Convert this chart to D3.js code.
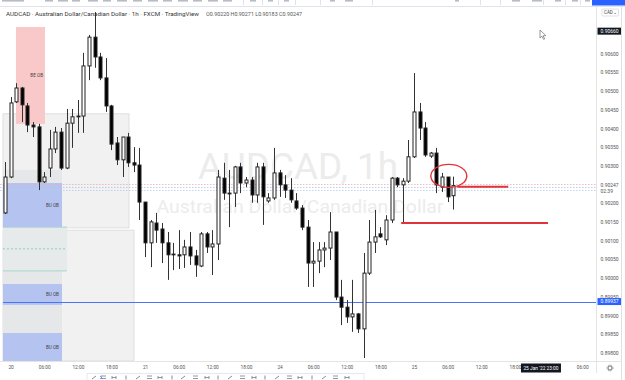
<!DOCTYPE html>
<html><head><meta charset="utf-8">
<script src="https://cdn.jsdelivr.net/npm/d3@7"></script>
<style>html,body{margin:0;padding:0;background:#fff;overflow:hidden}svg{display:block;font-family:Roboto,"Noto Sans",sans-serif}</style>
</head><body><svg id="c" width="625" height="380"></svg>
<script>
// ---- DATA (AUDCAD 1h, FXCM) ----
const candleOpen  = [0.90174,0.90270,0.90471,0.90508,0.90460,0.90409,0.90404,0.90257,0.90294,0.90345,0.90390,0.90294,0.90414,0.90431,0.90433,0.90567,0.90644,0.90591,0.90535,0.90460,0.90361,0.90316,0.90377,0.90308,0.90302,0.90203,0.90094,0.90147,0.90131,0.90094,0.90064,0.90062,0.90062,0.90083,0.90059,0.90032,0.90118,0.90083,0.90091,0.90267,0.90227,0.90227,0.90297,0.90254,0.90262,0.90222,0.90297,0.90206,0.90214,0.90281,0.90249,0.90235,0.90206,0.90187,0.90136,0.90040,0.90045,0.90075,0.90080,0.90123,0.89949,0.89922,0.89896,0.89904,0.89864,0.90013,0.90096,0.90118,0.90102,0.90155,0.90267,0.90249,0.90259,0.90324,0.90444,0.90401,0.90326,0.90334,0.90243,0.90270,0.90220];
const candleHigh  = [0.90310,0.90484,0.90521,0.90511,0.90468,0.90417,0.90412,0.90283,0.90396,0.90404,0.90401,0.90452,0.90452,0.90476,0.90602,0.90650,0.90711,0.90602,0.90588,0.90463,0.90377,0.90377,0.90388,0.90350,0.90348,0.90203,0.90155,0.90174,0.90147,0.90123,0.90094,0.90128,0.90102,0.90123,0.90075,0.90123,0.90123,0.90128,0.90289,0.90308,0.90289,0.90300,0.90308,0.90270,0.90270,0.90308,0.90308,0.90227,0.90348,0.90289,0.90275,0.90267,0.90227,0.90195,0.90155,0.90096,0.90096,0.90096,0.90176,0.90123,0.89995,0.89941,0.89995,0.89906,0.90067,0.90155,0.90182,0.90136,0.90168,0.90270,0.90270,0.90267,0.90369,0.90548,0.90468,0.90417,0.90337,0.90348,0.90281,0.90270,0.90271];
const candleLow   = [0.90171,0.90267,0.90468,0.90417,0.90390,0.90377,0.90235,0.90254,0.90270,0.90334,0.90289,0.90291,0.90348,0.90388,0.90388,0.90529,0.90562,0.90529,0.90444,0.90342,0.90302,0.90270,0.90297,0.90283,0.90155,0.90056,0.90029,0.90094,0.90040,0.89995,0.90021,0.90024,0.90027,0.90035,0.90003,0.90029,0.90067,0.90008,0.90048,0.90209,0.90136,0.90190,0.90227,0.90243,0.90201,0.90201,0.90142,0.90201,0.90209,0.90217,0.90214,0.90201,0.90182,0.90128,0.89976,0.89976,0.90013,0.90029,0.90048,0.89941,0.89874,0.89880,0.89856,0.89853,0.89786,0.90008,0.90067,0.90107,0.90088,0.90147,0.90243,0.90147,0.90254,0.90321,0.90369,0.90324,0.90321,0.90227,0.90230,0.90203,0.90183];
const candleClose = [0.90270,0.90468,0.90508,0.90463,0.90409,0.90404,0.90257,0.90270,0.90345,0.90390,0.90294,0.90414,0.90431,0.90433,0.90567,0.90644,0.90591,0.90535,0.90460,0.90358,0.90316,0.90377,0.90308,0.90302,0.90203,0.90094,0.90150,0.90128,0.90094,0.90062,0.90062,0.90059,0.90083,0.90059,0.90035,0.90118,0.90083,0.90091,0.90270,0.90227,0.90225,0.90297,0.90254,0.90262,0.90222,0.90297,0.90217,0.90214,0.90281,0.90249,0.90235,0.90209,0.90187,0.90136,0.90040,0.90045,0.90075,0.90080,0.90123,0.89949,0.89922,0.89896,0.89904,0.89864,0.90013,0.90096,0.90110,0.90110,0.90155,0.90267,0.90249,0.90259,0.90324,0.90444,0.90401,0.90329,0.90334,0.90249,0.90270,0.90217,0.90247];

const timeTickIndex  = [1,7,13,19,25,31,37,43,49,55,61,67,73,79,85,91,103];
const timeTickLabels = ["20","06:00","12:00","18:00","21","06:00","12:00","18:00","24","06:00","12:00","18:00","25","06:00","12:00","18:00","06:00"];
const priceTicks = [0.8980,0.8985,0.8990,0.8995,0.9000,0.9005,0.9010,0.9015,0.9020,0.9030,0.9035,0.9040,0.9045,0.9050,0.9055,0.9060];

// zones drawn on chart: [indexFrom, indexTo, priceTop, priceBottom]
const grayZones   = [[-0.36,22.13,0.90439,0.90134],[-0.36,23.02,0.90128,0.89778]];
const darkZones   = [[-0.36,10.17,0.90289,0.90134],[-0.36,10.17,0.90019,0.89778]];
const pinkZone    = [1.96,7.14,0.90671,0.90412];
const blueZones   = [[-0.36,10.17,0.90254,0.90136],[-0.36,10.17,0.89984,0.89928],[-0.36,10.17,0.89853,0.89778]];
const tealZone    = [-0.36,11.06,0.90136,0.90019,0.90078];
const blueLevel   = 0.89937;
const lastPrice   = 0.90247;
const bidAskLines = [0.90251,0.90244,0.90235];
const redLines    = [[80.7,89.8,0.90244],[70.7,96.9,0.90147]];
const circleMark  = [79.2,0.90273];
const crossPrice  = "0.90660";
const crossTime   = "25 Jan '22  23:00";

// ---- DRAW ----
const svg = d3.select("#c");
const x = d3.scaleLinear().domain([0,80]).range([5,453.3]);
const y = d3.scaleLinear().domain([0.898,0.906]).range([352.8,53.6]);
const plotR = 596, plotB = 361;

const g = svg.append("g");
g.selectAll(".gz").data(grayZones).join("rect")
 .attr("x",d=>x(d[0])).attr("width",d=>x(d[1])-x(d[0]))
 .attr("y",d=>y(d[2])).attr("height",d=>Math.min(plotB,y(d[3]))-y(d[2]))
 .attr("fill","#f1f1f2").attr("stroke","#d9d9db").attr("stroke-width",0.8);
g.selectAll(".dz").data(darkZones).join("rect")
 .attr("x",d=>x(d[0])).attr("width",d=>x(d[1])-x(d[0]))
 .attr("y",d=>y(d[2])).attr("height",d=>Math.min(plotB,y(d[3]))-y(d[2]))
 .attr("fill","#e6e7e9");
g.append("rect").attr("x",x(tealZone[0])).attr("width",x(tealZone[1])-x(tealZone[0]))
 .attr("y",y(tealZone[2])).attr("height",y(tealZone[3])-y(tealZone[2])).attr("fill","#e6eaea");
[tealZone[2],tealZone[3]].forEach(p=>g.append("line").attr("x1",x(tealZone[0])).attr("x2",x(tealZone[1]))
 .attr("y1",y(p)).attr("y2",y(p)).attr("stroke","#a3d6cb").attr("stroke-width",1));
g.append("line").attr("x1",x(tealZone[0])).attr("x2",x(tealZone[1]))
 .attr("y1",y(tealZone[4])).attr("y2",y(tealZone[4])).attr("stroke","#93cdc1").attr("stroke-dasharray","2,2");
g.selectAll(".bz").data(blueZones).join("rect")
 .attr("x",d=>x(d[0])).attr("width",d=>x(d[1])-x(d[0]))
 .attr("y",d=>y(d[2])).attr("height",d=>Math.min(plotB,y(d[3]))-y(d[2]))
 .attr("fill","#b5c3f0");
g.selectAll(".bzt").data(blueZones).join("text")
 .attr("x",d=>x(d[1])-3).attr("y",d=>(y(d[2])+Math.min(plotB,y(d[3])))/2+1.6)
 .attr("text-anchor","end").attr("font-size",4.6).attr("fill","#444").text("BU OB");
g.append("rect").attr("x",x(pinkZone[0])).attr("width",x(pinkZone[1])-x(pinkZone[0]))
 .attr("y",y(pinkZone[2])).attr("height",y(pinkZone[3])-y(pinkZone[2])).attr("fill","#f8c9c8");
g.append("text").attr("x",x(pinkZone[1])-2).attr("y",(y(pinkZone[2])+y(pinkZone[3]))/2+1.6)
 .attr("text-anchor","end").attr("font-size",4.6).attr("fill","#444").text("BE OB");

// watermark
g.append("text").attr("x",298).attr("y",179).attr("text-anchor","middle").attr("font-size",37)
 .attr("fill","#ececed").attr("textLength",200).attr("lengthAdjust","spacingAndGlyphs").text("AUDCAD, 1h");
g.append("text").attr("x",300).attr("y",213).attr("text-anchor","middle").attr("font-size",18.5)
 .attr("fill","#ececed").attr("textLength",287).attr("lengthAdjust","spacingAndGlyphs").text("Australian Dollar/Canadian Dollar");

const hl = [[bidAskLines[0],"#f4a9ab"],[bidAskLines[1],"#a9c3f5"],[bidAskLines[2],"#b9c9e6"]];
hl.forEach(([p,c])=>g.append("line").attr("x1",0).attr("x2",plotR).attr("y1",Math.round(y(p))+0.5).attr("y2",Math.round(y(p))+0.5)
 .attr("stroke",c).attr("stroke-width",0.8).attr("stroke-dasharray","1.5,1.5"));
g.append("line").attr("x1",x(-0.36)).attr("x2",plotR).attr("y1",Math.round(y(blueLevel))+0.5).attr("y2",Math.round(y(blueLevel))+0.5)
 .attr("stroke","#4a74f5").attr("stroke-width",1);

// candles
const data = candleOpen.map((o,i)=>({i,o,h:candleHigh[i],l:candleLow[i],c:candleClose[i]}));
const cg = g.append("g");
cg.selectAll("line").data(data).join("line")
 .attr("x1",d=>Math.round(x(d.i))+0.5).attr("x2",d=>Math.round(x(d.i))+0.5)
 .attr("y1",d=>y(d.h)).attr("y2",d=>y(d.l)).attr("stroke","#333").attr("stroke-width",1);
cg.selectAll("rect").data(data).join("rect")
 .attr("x",d=>Math.round(x(d.i))-1).attr("width",3)
 .attr("y",d=>Math.min(y(d.o),y(d.c))).attr("height",d=>Math.max(0.8,Math.abs(y(d.o)-y(d.c))))
 .attr("fill",d=>d.c>=d.o?"#fff":"#000").attr("stroke","#222").attr("stroke-width",1);

// red drawings
redLines.forEach(r=>g.append("line").attr("x1",x(r[0])).attr("x2",x(r[1])).attr("y1",y(r[2])).attr("y2",y(r[2]))
 .attr("stroke","#e2323a").attr("stroke-width",2));
g.append("ellipse").attr("cx",x(circleMark[0])).attr("cy",y(circleMark[1])).attr("rx",18).attr("ry",11.5)
 .attr("fill","none").attr("stroke","#e2323a").attr("stroke-width",1.4);

// price axis
svg.append("line").attr("x1",plotR+0.5).attr("x2",plotR+0.5).attr("y1",7).attr("y2",373).attr("stroke","#e4e4e6");
svg.append("line").attr("x1",621.5).attr("x2",621.5).attr("y1",7).attr("y2",380).attr("stroke","#e0e0e0");
const ya = svg.append("g").attr("transform",`translate(${plotR},0)`)
 .call(d3.axisRight(y).tickValues(priceTicks).tickFormat(d3.format(".5f")).tickSize(0).tickPadding(4.5));
ya.select(".domain").remove();
ya.selectAll("text").attr("font-size",5).attr("fill","#555").attr("font-family","Roboto,sans-serif");
svg.append("rect").attr("x",597).attr("y",y(lastPrice)-3.5).attr("width",24).attr("height",11).attr("fill","#fff");
svg.append("text").attr("x",600.5).attr("y",y(lastPrice)+1.8).attr("font-size",5).attr("fill","#555").text(d3.format(".5f")(lastPrice));
svg.append("text").attr("x",600.5).attr("y",y(lastPrice)+7.6).attr("font-size",5).attr("fill","#555").text("02:39");
svg.append("rect").attr("x",597.5).attr("y",y(blueLevel)-3.5).attr("width",23.5).attr("height",7).attr("fill","#2962ff");
svg.append("text").attr("x",600.5).attr("y",y(blueLevel)+1.8).attr("font-size",5).attr("fill","#fff").text(d3.format(".5f")(blueLevel));
svg.append("rect").attr("x",597.5).attr("y",y(+crossPrice)-3.5).attr("width",23.5).attr("height",7).attr("fill","#131722");
svg.append("text").attr("x",600.5).attr("y",y(+crossPrice)+1.8).attr("font-size",5).attr("fill","#fff").text(crossPrice);

// time axis
svg.append("line").attr("x1",0).attr("x2",621).attr("y1",plotB+0.5).attr("y2",plotB+0.5).attr("stroke","#e4e4e6");
const xa = svg.append("g").attr("transform",`translate(0,${plotB})`)
 .call(d3.axisBottom(x).tickValues(timeTickIndex).tickFormat((d,i)=>timeTickLabels[i]).tickSize(0).tickPadding(4.3));
xa.select(".domain").remove();
xa.selectAll("text").attr("font-size",4.8).attr("fill","#555").attr("font-family","Roboto,sans-serif");
const ctx = x(96);
svg.append("rect").attr("x",ctx-22).attr("y",363.5).attr("width",40).attr("height",9).attr("fill","#131722");
svg.append("text").attr("x",ctx-2).attr("y",369.8).attr("text-anchor","middle").attr("font-size",4.8).attr("fill","#fff").text(crossTime);
svg.append("circle").attr("cx",610).attr("cy",368).attr("r",2).attr("fill","none").attr("stroke","#555").attr("stroke-width",0.8);
svg.append("circle").attr("cx",610).attr("cy",368).attr("r",3).attr("fill","none").attr("stroke","#555").attr("stroke-width",0.6).attr("stroke-dasharray","1,0.9");

// top toolbar
svg.append("rect").attr("x",0).attr("y",0).attr("width",625).attr("height",6.5).attr("fill","#fff");
svg.append("line").attr("x1",0).attr("x2",625).attr("y1",6.5).attr("y2",6.5).attr("stroke","#e0e3eb");
const tbMarks = [[2,22],[45,8],[58,10],[72,8],[88,10],[103,8],[117,10],[133,9],[148,10],[163,9],[178,10],[193,9],[208,10],[223,9],[250,6],[268,5],[284,5],[330,5],[345,8],[455,4],[512,8],[532,10],[555,6],[572,6],[585,5]];
tbMarks.forEach(m=>svg.append("rect").attr("x",m[0]).attr("y",0).attr("width",m[1]).attr("height",1.6).attr("fill","#b8bcc6"));
[243,262,278,295,320,372,480,500,543,565,580].forEach(v=>svg.append("line").attr("x1",v+0.5).attr("x2",v+0.5).attr("y1",0).attr("y2",5).attr("stroke","#e0e3eb"));
svg.append("rect").attr("x",592).attr("y",0).attr("width",33).attr("height",5.5).attr("fill","#2962ff");

// legend
svg.append("text").attr("x",6).attr("y",15.5).attr("font-size",5.8).attr("fill","#333")
 .attr("textLength",193).attr("lengthAdjust","spacingAndGlyphs").text("AUDCAD · Australian Dollar/Canadian Dollar · 1h · FXCM · TradingView");
const last = data[data.length-1];
const f5 = d3.format(".5f");
svg.append("text").attr("x",206).attr("y",15.5).attr("font-size",5).attr("fill","#555")
 .attr("textLength",96).attr("lengthAdjust","spacingAndGlyphs")
 .text(`O${f5(last.o)} H${f5(last.h)} L${f5(last.l)} C${f5(last.c)}`);
svg.append("rect").attr("x",602).attr("y",9).attr("width",16.5).attr("height",7).attr("rx",1).attr("fill","#fff").attr("stroke","#c9ccd3").attr("stroke-width",0.6);
svg.append("text").attr("x",604).attr("y",14).attr("font-size",4.5).attr("fill","#444").text("CAD⌄");

// mouse cursor
svg.append("path").attr("d","M540,30 l0,8 l2,-1.8 l1.6,3.2 l1.1,-0.5 l-1.6,-3.1 l2.8,-0.2 z").attr("fill","#fff").attr("stroke","#555").attr("stroke-width",0.6);

// bottom drawing toolbar
svg.append("rect").attr("x",87).attr("y",373.5).attr("width",277).attr("height",8).attr("fill","#fff").attr("stroke","#e0e3eb").attr("stroke-width",0.8);
const icons = [92,101,112,124,136,147,158,170,181,193,205,216,228,240,252,263,275,287,298,310,322,333,345];
icons.forEach((v,k)=>{
  const t = k%4;
  if(t===0) svg.append("line").attr("x1",v).attr("x2",v+4).attr("y1",379).attr("y2",376).attr("stroke","#6a6d78").attr("stroke-width",0.8);
  else if(t===1) svg.append("path").attr("d",`M${v},376 h5 M${v},378.5 h5`).attr("stroke","#6a6d78").attr("stroke-width",0.7);
  else if(t===2) svg.append("path").attr("d",`M${v},376 v3 M${v+4},376 v3 M${v},377.5 h4`).attr("stroke","#6a6d78").attr("stroke-width",0.7);
  else svg.append("line").attr("x1",v+2).attr("x2",v+2).attr("y1",375.5).attr("y2",379.5).attr("stroke","#6a6d78").attr("stroke-width",0.8);
});
svg.append("path").attr("d","M100,376 l2,1.5 l-2,1.5").attr("fill","none").attr("stroke","#2962ff").attr("stroke-width",0.7);
</script></body></html>
